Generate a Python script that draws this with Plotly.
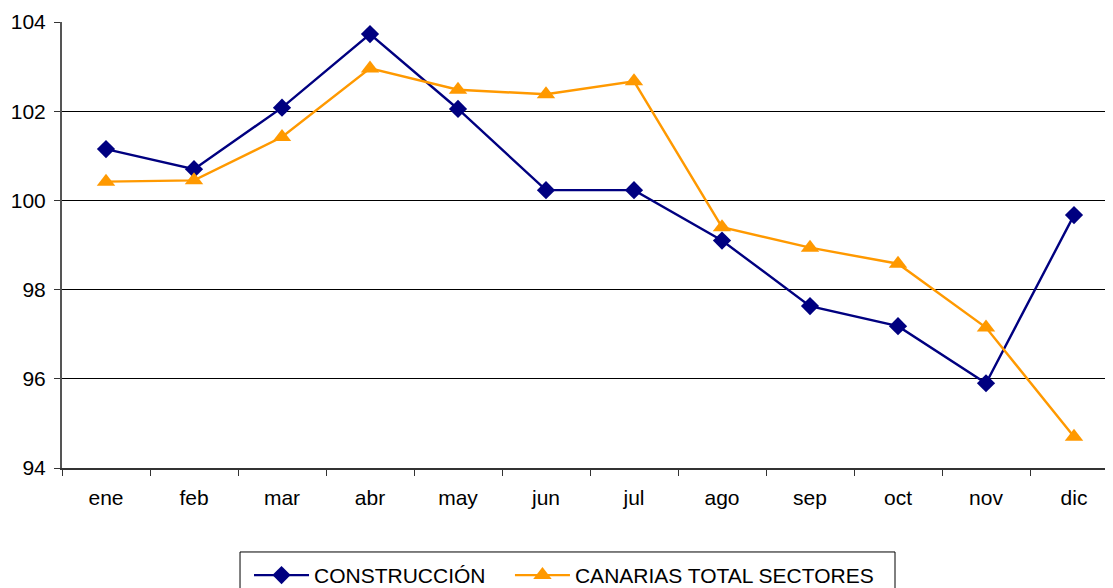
import plotly.graph_objects as go

months = ["ene", "feb", "mar", "abr", "may", "jun", "jul", "ago", "sep", "oct", "nov", "dic"]
construccion = [101.15, 100.70, 102.08, 103.73, 102.05, 100.23, 100.23, 99.10, 97.63, 97.18, 95.90, 99.67]
canarias = [100.42, 100.45, 101.42, 102.96, 102.48, 102.38, 102.67, 99.40, 98.94, 98.58, 97.15, 94.70]
y_ticks = [94, 96, 98, 100, 102, 104]

fig = go.Figure()
fig.add_trace(go.Scatter(
    x=months, y=construccion, name="CONSTRUCCIÓN", mode="lines+markers",
    line=dict(color="#000080", width=2.4),
    marker=dict(symbol="diamond", size=14, color="#000080"),
    legend="legend",
))
fig.add_trace(go.Scatter(
    x=months, y=canarias, name="CANARIAS TOTAL SECTORES", mode="lines+markers",
    line=dict(color="#FF9900", width=2.4),
    marker=dict(symbol="triangle-up", size=16, color="#FF9900"),
    legend="legend2",
))

legend_common = dict(
    orientation="h", yanchor="top", y=-0.195, xanchor="left",
    bgcolor="rgba(0,0,0,0)", borderwidth=0, font=dict(size=21),
    itemwidth=55,
)

fig.update_layout(
    width=1113, height=588,
    margin=dict(l=54, r=0, t=14, b=128, autoexpand=False),
    paper_bgcolor="white", plot_bgcolor="white",
    font=dict(family="Liberation Sans, Arial, sans-serif", size=21, color="black"),
    showlegend=True,
    legend=dict(x=0.1766, **legend_common),
    legend2=dict(x=0.4230, **legend_common),
    xaxis=dict(
        type="category", range=[-0.5, 11.534], automargin=False,
        showgrid=False, showline=True, linecolor="#333333", linewidth=2,
        ticks="outside", tickson="boundaries", ticklen=6, tickcolor="#333333",
        tickfont=dict(size=21), zeroline=False, ticklabelstandoff=10,
    ),
    yaxis=dict(
        range=[94, 104], tickvals=y_ticks, automargin=False,
        showgrid=True, gridcolor="black", gridwidth=1,
        showline=True, linecolor="#555555", linewidth=2,
        ticks="outside", ticklen=6, tickcolor="#333333",
        tickfont=dict(size=21), zeroline=False, ticklabelstandoff=4,
    ),
    shapes=[dict(
        type="rect", xref="paper", yref="paper",
        x0=0.1681, x1=0.7866, y0=-0.1883, y1=-0.30,
        line=dict(color="black", width=1), fillcolor="rgba(0,0,0,0)",
    )],
)

fig.write_html("out.html")
